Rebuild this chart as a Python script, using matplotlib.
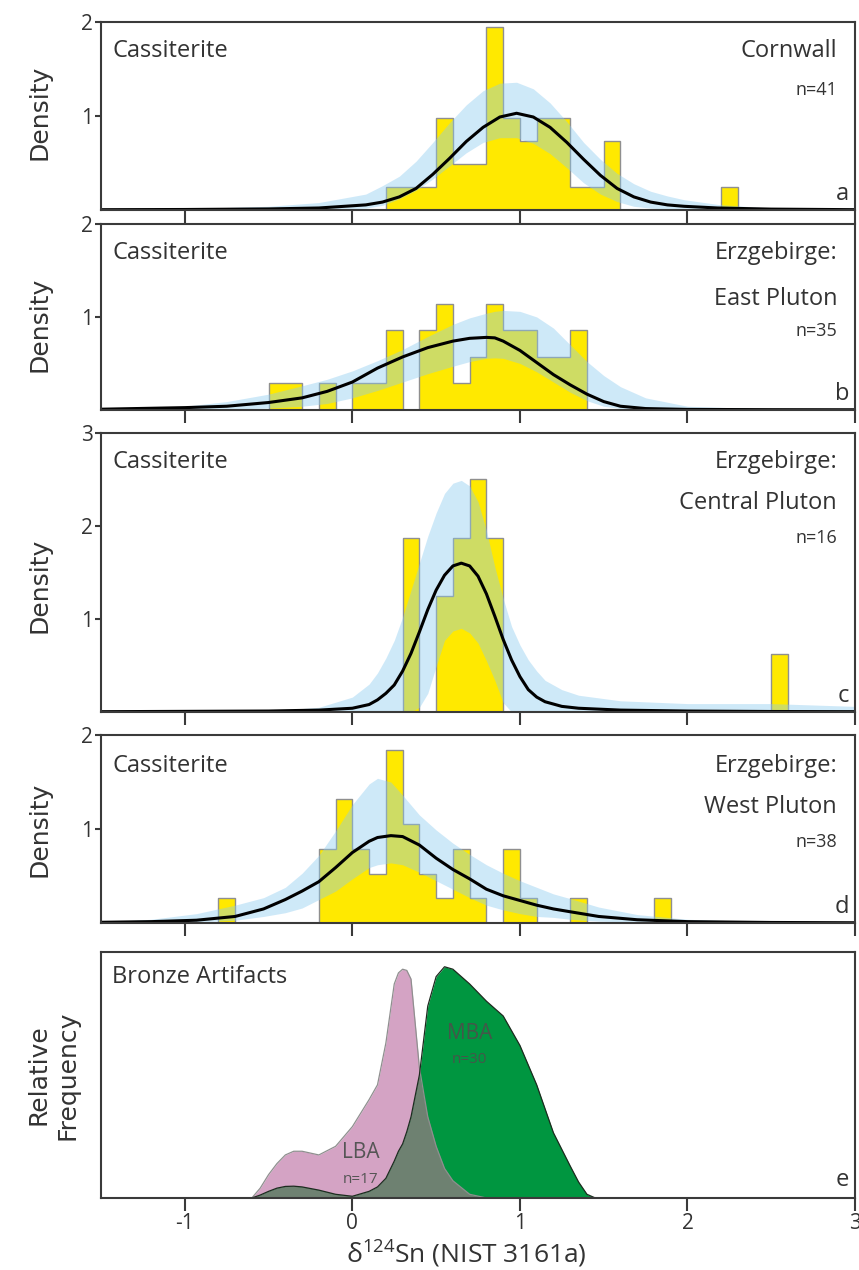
import numpy as np
import matplotlib
matplotlib.use('Agg')
import matplotlib.pyplot as plt

plt.rcParams['font.family'] = ['Open Sans', 'DejaVu Sans']
plt.rcParams['mathtext.fontset'] = 'custom'
plt.rcParams['mathtext.rm'] = 'Open Sans'

BW = 0.1  # bin width of the histograms

# ---- panel a: Cornwall ----
a_lefts = [0.2, 0.3, 0.4, 0.5, 0.6, 0.7, 0.8, 0.9, 1.0, 1.1, 1.2, 1.3, 1.4, 1.5, 2.2]
a_counts = [1, 1, 1, 4, 2, 2, 8, 4, 3, 4, 4, 1, 1, 3, 1]
a_n = 41
a_x = [-1.5, -1.0, -0.5, -0.2, 0.08, 0.18, 0.28, 0.38, 0.48, 0.58, 0.68, 0.78, 0.88, 0.98,
       1.08, 1.18, 1.28, 1.38, 1.48, 1.58, 1.68, 1.78, 1.88, 1.98, 2.18, 2.5, 3.0]
a_mean = [0.004, 0.006, 0.012, 0.022, 0.055, 0.085, 0.14, 0.23, 0.38, 0.55, 0.73, 0.88, 0.99, 1.03,
          0.99, 0.88, 0.72, 0.54, 0.37, 0.23, 0.14, 0.085, 0.055, 0.04, 0.022, 0.01, 0.004]
a_hi = [0.005, 0.015, 0.04, 0.08, 0.17, 0.26, 0.36, 0.52, 0.72, 0.93, 1.12, 1.27, 1.35, 1.36,
        1.29, 1.14, 0.94, 0.72, 0.54, 0.39, 0.28, 0.2, 0.15, 0.11, 0.06, 0.02, 0.005]
a_lo = [0, 0, 0, 0.003, 0.02, 0.05, 0.12, 0.21, 0.33, 0.47, 0.61, 0.72, 0.77, 0.77,
        0.71, 0.6, 0.45, 0.29, 0.17, 0.09, 0.04, 0.02, 0.01, 0.005, 0, 0, 0]

# ---- panel b: Erzgebirge East Pluton ----
b_lefts = [-0.5, -0.4, -0.2, 0.0, 0.1, 0.2, 0.4, 0.5, 0.6, 0.7, 0.8, 0.9, 1.0, 1.1, 1.2, 1.3]
b_counts = [1, 1, 1, 1, 1, 3, 3, 4, 1, 2, 4, 3, 3, 2, 2, 3]
b_n = 35
b_x = [-1.5, -1.0, -0.75, -0.5, -0.3, -0.15, 0.0, 0.15, 0.3, 0.45, 0.6, 0.7, 0.8, 0.85, 0.9,
       1.0, 1.1, 1.2, 1.3, 1.4, 1.5, 1.6, 1.75, 2.0, 2.5, 3.0]
b_mean = [0.008, 0.025, 0.04, 0.08, 0.13, 0.2, 0.30, 0.45, 0.57, 0.67, 0.74, 0.77, 0.78, 0.775, 0.74,
          0.64, 0.51, 0.38, 0.27, 0.17, 0.09, 0.04, 0.015, 0.006, 0.003, 0.002]
b_hi = [0.01, 0.04, 0.09, 0.17, 0.26, 0.33, 0.42, 0.53, 0.65, 0.79, 0.92, 0.99, 1.04, 1.06, 1.07,
        1.06, 1.0, 0.88, 0.7, 0.52, 0.37, 0.25, 0.13, 0.04, 0.01, 0.003]
b_lo = [0, 0.005, 0.01, 0.02, 0.04, 0.07, 0.13, 0.21, 0.3, 0.39, 0.47, 0.52, 0.555, 0.56, 0.555,
        0.5, 0.41, 0.3, 0.19, 0.1, 0.04, 0.015, 0.005, 0, 0, 0]

# ---- panel c: Erzgebirge Central Pluton ----
c_lefts = [0.3, 0.5, 0.6, 0.7, 0.8, 2.5]
c_counts = [3, 2, 3, 4, 3, 1]
c_n = 16
c_x = [-1.5, -0.5, -0.2, 0.0, 0.1, 0.15, 0.2, 0.25, 0.3, 0.35, 0.4, 0.45, 0.5, 0.55, 0.6, 0.65,
       0.7, 0.75, 0.8, 0.85, 0.9, 0.95, 1.0, 1.05, 1.1, 1.15, 1.25, 1.35, 1.6, 2.0, 2.5, 3.0]
c_mean = [0.003, 0.01, 0.02, 0.04, 0.08, 0.13, 0.2, 0.29, 0.44, 0.63, 0.86, 1.10, 1.31, 1.47, 1.57, 1.60,
          1.57, 1.46, 1.27, 1.03, 0.78, 0.56, 0.38, 0.24, 0.16, 0.11, 0.06, 0.04, 0.02, 0.01, 0.005, 0.003]
c_hi = [0.005, 0.01, 0.05, 0.16, 0.3, 0.42, 0.58, 0.77, 1.02, 1.31, 1.6, 1.89, 2.14, 2.35, 2.46, 2.49,
        2.43, 2.26, 1.95, 1.56, 1.22, 0.92, 0.72, 0.56, 0.44, 0.34, 0.24, 0.18, 0.12, 0.09, 0.09, 0.06]
c_lo = [0, 0, 0, 0, 0, 0, 0, 0, 0, 0, 0.05, 0.2, 0.49, 0.77, 0.87, 0.90,
        0.85, 0.74, 0.55, 0.34, 0.1, 0, 0, 0, 0, 0, 0, 0, 0, 0, 0, 0]

# ---- panel d: Erzgebirge West Pluton ----
d_lefts = [-0.8, -0.2, -0.1, 0.0, 0.1, 0.2, 0.3, 0.4, 0.5, 0.6, 0.7, 0.9, 1.0, 1.3, 1.8]
d_counts = [1, 3, 5, 3, 2, 7, 4, 2, 1, 3, 1, 3, 1, 1, 1]
d_n = 38
d_x = [-1.5, -1.2, -0.93, -0.7, -0.53, -0.4, -0.3, -0.2, -0.1, 0.0, 0.1, 0.15, 0.23, 0.3, 0.4,
       0.5, 0.6, 0.7, 0.8, 0.9, 1.0, 1.1, 1.2, 1.3, 1.47, 1.7, 2.0, 2.5, 3.0]
d_mean = [0.008, 0.015, 0.03, 0.07, 0.15, 0.25, 0.34, 0.44, 0.59, 0.75, 0.87, 0.91, 0.93, 0.92, 0.83,
          0.69, 0.57, 0.47, 0.36, 0.29, 0.24, 0.19, 0.15, 0.12, 0.07, 0.035, 0.015, 0.006, 0.003]
d_hi = [0.01, 0.04, 0.1, 0.19, 0.27, 0.38, 0.53, 0.72, 0.98, 1.26, 1.48, 1.54, 1.5, 1.36, 1.15,
        0.99, 0.85, 0.73, 0.62, 0.53, 0.45, 0.38, 0.31, 0.26, 0.17, 0.09, 0.04, 0.01, 0.003]
d_lo = [0, 0, 0.01, 0.03, 0.07, 0.11, 0.16, 0.25, 0.34, 0.47, 0.59, 0.62, 0.64, 0.62, 0.54,
        0.45, 0.36, 0.27, 0.19, 0.14, 0.10, 0.07, 0.06, 0.04, 0.02, 0.01, 0, 0, 0]

# ---- panel e: bronze artifacts (relative frequency) ----
e_x = [-0.6, -0.55, -0.5, -0.45, -0.4, -0.35, -0.3, -0.2, -0.1, 0.0, 0.1, 0.15, 0.2, 0.25, 0.275,
       0.3, 0.325, 0.35, 0.4, 0.45, 0.5, 0.55, 0.6, 0.7, 0.8, 0.9, 1.0, 1.1, 1.2, 1.3, 1.35, 1.4, 1.45]
e_lba = [0, 0.04, 0.095, 0.14, 0.175, 0.19, 0.19, 0.175, 0.21, 0.29, 0.40, 0.46, 0.63, 0.87, 0.915,
         0.93, 0.925, 0.89, 0.53, 0.33, 0.21, 0.12, 0.07, 0.015, 0, 0, 0, 0, 0, 0, 0, 0, 0]
e_mba = [0, 0.012, 0.027, 0.04, 0.047, 0.048, 0.045, 0.032, 0.015, 0.007, 0.027, 0.045, 0.08, 0.15, 0.19,
         0.22, 0.27, 0.33, 0.5, 0.78, 0.9, 0.94, 0.93, 0.87, 0.80, 0.74, 0.62, 0.46, 0.265, 0.13, 0.065, 0.015, 0]

xticks = [-1, 0, 1, 2, 3]
xticklabels = ['-1', '0', '1', '2', '3']

YELLOW = '#ffe900'
BAND = '#8ccbf0'
TXT = '#333333'
SPINE = '#3a3a3a'

panels = [
    dict(lefts=a_lefts, counts=a_counts, n=a_n, x=a_x, mean=a_mean, hi=a_hi, lo=a_lo,
         ymax=2, yticks=[1, 2], right=['Cornwall'], ntext='n=41', letter='a',
         rect=[0.1176, 0.8346, 0.8778, 0.1480], dlab=0.52, offs=[29, 68]),
    dict(lefts=b_lefts, counts=b_counts, n=b_n, x=b_x, mean=b_mean, hi=b_hi, lo=b_lo,
         ymax=2, yticks=[1, 2], right=['Erzgebirge:', 'East Pluton'], ntext='n=35', letter='b',
         rect=[0.1176, 0.6772, 0.8778, 0.1465], dlab=0.46, offs=[29, 75, 107]),
    dict(lefts=c_lefts, counts=c_counts, n=c_n, x=c_x, mean=c_mean, hi=c_hi, lo=c_lo,
         ymax=3, yticks=[1, 2, 3], right=['Erzgebirge:', 'Central Pluton'], ntext='n=16', letter='c',
         rect=[0.1176, 0.4394, 0.8778, 0.2197], dlab=0.455, offs=[29, 70, 105]),
    dict(lefts=d_lefts, counts=d_counts, n=d_n, x=d_x, mean=d_mean, hi=d_hi, lo=d_lo,
         ymax=2, yticks=[1, 2], right=['Erzgebirge:', 'West Pluton'], ntext='n=38', letter='d',
         rect=[0.1176, 0.2732, 0.8778, 0.1480], dlab=0.5, offs=[31, 72, 107]),
]

fig = plt.figure(figsize=(8.59, 12.7), dpi=100)


def style_axes(ax):
    for s in ax.spines.values():
        s.set_color(SPINE)
        s.set_linewidth(1.5)
    ax.set_xlim(-1.5, 3.0)
    ax.set_xticks(xticks)
    ax.tick_params(axis='x', direction='out', length=9, width=1.5, color=SPINE,
                   labelsize=15, labelcolor=TXT, pad=2)
    ax.tick_params(axis='y', direction='out', length=4, width=1.5, color=SPINE,
                   labelsize=15, labelcolor=TXT, pad=2)


def px2pt(p):
    return p * 0.72


for p in panels:
    ax = fig.add_axes(p['rect'])
    style_axes(ax)

    # histogram on a continuous bin grid
    lo_edge = min(p['lefts'])
    nb = int(round((max(p['lefts']) + BW - lo_edge) / BW))
    edges = lo_edge + BW * np.arange(nb + 1)
    dens = np.zeros(nb)
    for l, c in zip(p['lefts'], p['counts']):
        dens[int(round((l - lo_edge) / BW))] = c / (p['n'] * BW)
    ax.stairs(dens, edges, fill=True, color=YELLOW, lw=0, zorder=1)
    ax.stairs(dens, edges, color='#8f8f8f', lw=1.0, zorder=1.1)

    ax.fill_between(p['x'], p['lo'], p['hi'], color=BAND, alpha=0.42, lw=0, zorder=1.5)
    ax.plot(p['x'], p['mean'], color='black', lw=2.2, zorder=2, solid_joinstyle='round')

    ax.set_ylim(0, p['ymax'])
    ax.set_yticks(p['yticks'])
    ax.set_xticklabels([])

    ax.text(-0.081, p['dlab'], 'Density', rotation=90, ha='center', va='center',
            transform=ax.transAxes, fontsize=18, color=TXT, family='DejaVu Sans')
    ax.annotate('Cassiterite', xy=(0, 1), xycoords='axes fraction',
                xytext=(px2pt(11), -px2pt(p['offs'][0])), textcoords='offset points',
                ha='left', va='center', fontsize=17, color=TXT)
    for i, line in enumerate(p['right']):
        ax.annotate(line, xy=(1, 1), xycoords='axes fraction',
                    xytext=(-px2pt(18), -px2pt(p['offs'][i])), textcoords='offset points',
                    ha='right', va='center', fontsize=17, color=TXT)
    ax.annotate(p['ntext'], xy=(1, 1), xycoords='axes fraction',
                xytext=(-px2pt(18), -px2pt(p['offs'][-1])), textcoords='offset points',
                ha='right', va='center', fontsize=13, color=TXT)
    ax.annotate(p['letter'], xy=(1, 0), xycoords='axes fraction',
                xytext=(-px2pt(6), px2pt(16)), textcoords='offset points',
                ha='right', va='center', fontsize=17, color=TXT)

# ---- bronze artifacts ----
ax = fig.add_axes([0.1176, 0.0567, 0.8778, 0.1937])
style_axes(ax)
ex = np.array(e_x)
lba = np.array(e_lba)
mba = np.array(e_mba)
ax.fill_between(ex, 0, lba, color='#d4a3c4', lw=0, zorder=1)
ax.fill_between(ex, 0, mba, color='#009640', lw=0, zorder=1.1)
ax.fill_between(ex, 0, np.minimum(lba, mba), color='#6e8171', lw=0, zorder=1.2)
ax.plot(ex, lba, color='#8f8f8f', lw=0.9, zorder=1.3)
ax.plot(ex, mba, color='#1d2b1f', lw=0.9, zorder=1.4)
ax.set_ylim(0, 1.0)
ax.set_yticks([])
ax.set_xticklabels(xticklabels)

ax.text(0.70, 0.67, 'MBA', ha='center', va='center', fontsize=15, color='#44574a', zorder=3)
ax.text(0.70, 0.565, 'n=30', ha='center', va='center', fontsize=11, color='#44574a', zorder=3)
ax.text(0.05, 0.185, 'LBA', ha='center', va='center', fontsize=15, color='#555555', zorder=3)
ax.text(0.05, 0.075, 'n=17', ha='center', va='center', fontsize=11, color='#555555', zorder=3)

ax.text(-0.064, 0.5, 'Relative\nFrequency', rotation=90, ha='center', va='center',
        multialignment='center', transform=ax.transAxes, fontsize=18, color=TXT,
        family='DejaVu Sans', linespacing=1.25)
ax.annotate('Bronze Artifacts', xy=(0, 1), xycoords='axes fraction',
            xytext=(px2pt(11), -px2pt(25)), textcoords='offset points',
            ha='left', va='center', fontsize=17, color=TXT)
ax.annotate('e', xy=(1, 0), xycoords='axes fraction',
            xytext=(-px2pt(6), px2pt(18)), textcoords='offset points',
            ha='right', va='center', fontsize=17, color=TXT)
ax.text(0.484, -0.222, r'δ$^{124}$Sn (NIST 3161a)', ha='center', va='center',
        transform=ax.transAxes, fontsize=19, color=TXT)

fig.savefig('out.png', dpi=100)
